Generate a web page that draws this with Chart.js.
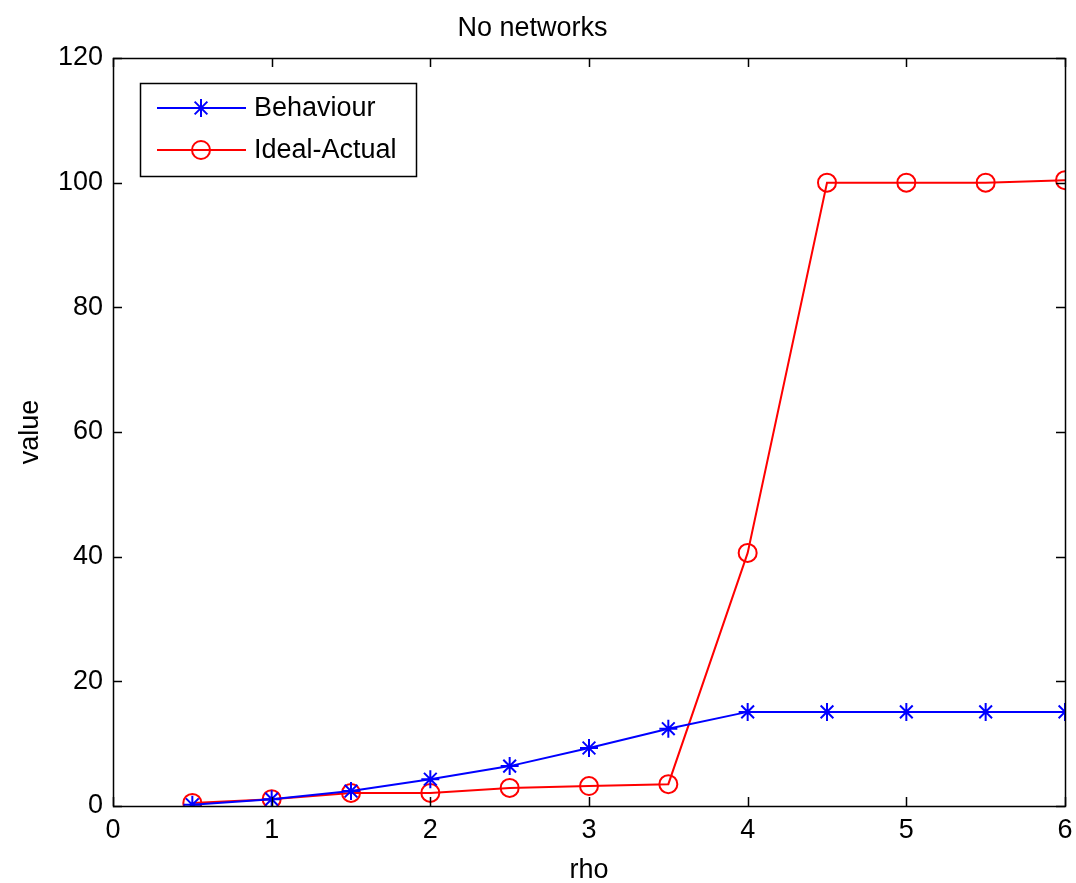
<!DOCTYPE html>
<html>
<head>
<meta charset="utf-8">
<script src="https://cdn.jsdelivr.net/npm/chart.js@4"></script>
<style>
  body { margin: 0; background: #fff; }
  canvas { display: block; }
</style>
</head>
<body>
<canvas id="chart" width="1076" height="883"></canvas>
<script>
// rho values on the x axis
const rho = [0.5, 1, 1.5, 2, 2.5, 3, 3.5, 4, 4.5, 5, 5.5, 6];
// series
const behaviour = [0.2, 1.1, 2.4, 4.3, 6.4, 9.3, 12.4, 15.1, 15.1, 15.1, 15.1, 15.1];
const idealActual = [0.5, 1.1, 2.1, 2.1, 2.9, 3.2, 3.5, 40.6, 100, 100, 100, 100.4];

const FONT = 'Liberation Sans, Arial, sans-serif';
const SIZE = 27;

const toPoints = (ys) => ys.map((y, i) => ({ x: rho[i], y }));

// matlab style: box round the axes with ticks pointing inward
const boxTicks = {
    id: 'boxTicks',
    afterDraw(chart) {
        const { ctx, chartArea: a, scales } = chart;
        const len = 9;
        ctx.save();
        ctx.strokeStyle = '#000';
        ctx.lineWidth = 1.5;
        ctx.strokeRect(a.left + 0.5, a.top + 0.5, a.right - a.left, a.bottom - a.top);
        ctx.beginPath();
        scales.x.ticks.forEach(t => {
            const px = Math.round(scales.x.getPixelForValue(t.value)) + 0.5;
            ctx.moveTo(px, a.bottom); ctx.lineTo(px, a.bottom - len);
            ctx.moveTo(px, a.top); ctx.lineTo(px, a.top + len);
        });
        scales.y.ticks.forEach(t => {
            const py = Math.round(scales.y.getPixelForValue(t.value)) + 0.5;
            ctx.moveTo(a.left, py); ctx.lineTo(a.left + len, py);
            ctx.moveTo(a.right, py); ctx.lineTo(a.right - len, py);
        });
        ctx.stroke();
        ctx.restore();
    }
};

// legend drawn inside the axes, top left
const innerLegend = {
    id: 'innerLegend',
    afterDraw(chart) {
        const { ctx, chartArea: a } = chart;
        const x0 = a.left + 27, y0 = a.top + 25, w = 276, h = 93;
        ctx.save();
        ctx.fillStyle = '#fff';
        ctx.fillRect(x0, y0, w, h);
        ctx.strokeStyle = '#000';
        ctx.lineWidth = 1.5;
        ctx.strokeRect(x0 + 0.5, y0 + 0.5, w, h);
        chart.data.datasets.forEach((ds, i) => {
            const cy = y0 + 25 + i * 42;
            ctx.strokeStyle = ds.borderColor;
            ctx.lineWidth = ds.borderWidth;
            ctx.beginPath();
            ctx.moveTo(x0 + 17, cy); ctx.lineTo(x0 + 106, cy);
            ctx.stroke();
            ctx.fillStyle = 'rgba(0,0,0,0)';
            ctx.strokeStyle = ds.borderColor;
            Chart.helpers.drawPoint(ctx, {
                pointStyle: ds.pointStyle,
                radius: ds.pointRadius,
                borderWidth: ds.borderWidth
            }, x0 + 61, cy);
            ctx.fillStyle = '#000';
            ctx.font = SIZE + 'px ' + FONT;
            ctx.textBaseline = 'middle';
            ctx.fillText(ds.label, x0 + 114, cy + 1);
        });
        ctx.restore();
    }
};

new Chart(document.getElementById('chart'), {
    type: 'line',
    data: {
        datasets: [{
            label: 'Behaviour',
            data: toPoints(behaviour),
            borderColor: '#0000ff',
            backgroundColor: 'transparent',
            borderWidth: 2,
            pointStyle: 'star',
            pointRadius: 9,
            pointBorderColor: '#0000ff',
            tension: 0
        }, {
            label: 'Ideal-Actual',
            data: toPoints(idealActual),
            borderColor: '#ff0000',
            backgroundColor: 'transparent',
            borderWidth: 2,
            pointStyle: 'circle',
            pointRadius: 9,
            pointBorderColor: '#ff0000',
            pointBackgroundColor: 'transparent',
            tension: 0
        }]
    },
    options: {
        responsive: false,
        animation: false,
        layout: { padding: { right: 11 } },
        plugins: {
            legend: { display: false },
            tooltip: { enabled: false },
            title: {
                display: true,
                text: 'No networks',
                color: '#000',
                font: { family: FONT, size: SIZE, weight: 'normal' },
                padding: { top: 12, bottom: 13.6 }
            }
        },
        scales: {
            x: {
                type: 'linear',
                min: 0, max: 6,
                afterFit: s => { s.height = 77; s.paddingRight = 0; s.paddingLeft = 0; },
                grid: { display: false, drawTicks: false },
                border: { display: false },
                ticks: { stepSize: 1, color: '#000', padding: 8, font: { family: FONT, size: SIZE } },
                title: {
                    display: true, text: 'rho', color: '#000',
                    font: { family: FONT, size: SIZE },
                    padding: { top: 0, bottom: -4 }
                }
            },
            y: {
                min: 0, max: 120,
                afterFit: s => { s.width = 113; },
                grid: { display: false, drawTicks: false },
                border: { display: false },
                ticks: { stepSize: 20, color: '#000', padding: 10, font: { family: FONT, size: SIZE } },
                title: {
                    display: true, text: 'value', color: '#000',
                    font: { family: FONT, size: SIZE },
                    padding: { top: 14, bottom: 0 }
                }
            }
        }
    },
    plugins: [boxTicks, innerLegend]
});
</script>
</body>
</html>
